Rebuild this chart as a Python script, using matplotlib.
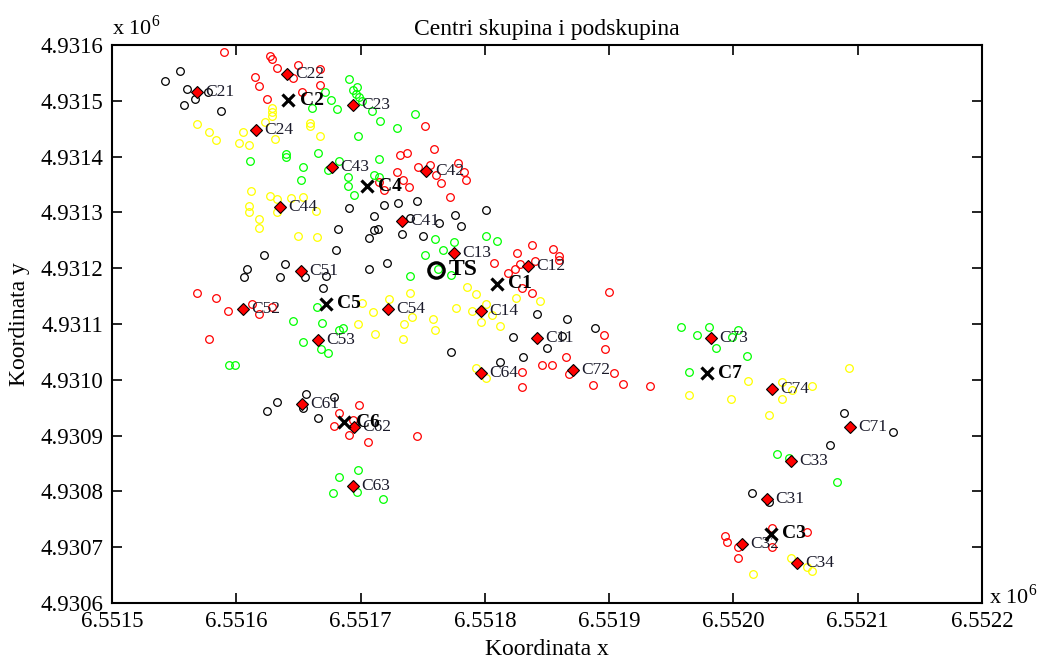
import numpy as np
import matplotlib
matplotlib.use('Agg')
import matplotlib.pyplot as plt

plt.rcParams['font.family'] = ['Liberation Serif', 'DejaVu Serif']
plt.rcParams['mathtext.fontset'] = 'stix'

# tocke po bojama (koordinate u metrima)
black_x = [6551543, 6551555, 6551560, 6551567, 6551558, 6551588, 6551577, 6551622, 6551609,
           6551606, 6551639, 6551635, 6551655, 6551670, 6551672, 6551680, 6551682, 6551691,
           6551707, 6551711, 6551711, 6551714, 6551719, 6551730, 6551745, 6551733, 6551750,
           6551740, 6551763, 6551707, 6551721, 6551776, 6551781, 6551801, 6551842, 6551866,
           6551889, 6551823, 6551850, 6551862, 6551831, 6551812, 6551773, 6552089, 6552078,
           6552128, 6552015, 6552029, 6551656, 6551633, 6551625, 6551654, 6551666, 6551679]
black_y = [4931536, 4931553, 4931521, 4931503, 4931492, 4931482, 4931516, 4931224, 4931199,
           4931184, 4931208, 4931184, 4931184, 4931165, 4931186, 4931233, 4931270, 4931308,
           4931254, 4931294, 4931268, 4931270, 4931313, 4931317, 4931320, 4931261, 4931258,
           4931290, 4931281, 4931199, 4931209, 4931295, 4931276, 4931304, 4931118, 4931109,
           4931093, 4931077, 4931057, 4931078, 4931041, 4931032, 4931050, 4930940, 4930883,
           4930906, 4930797, 4930781, 4930975, 4930960, 4930944, 4930950, 4930932, 4930969]

green_x = [6551691, 6551697, 6551694, 6551696, 6551699, 6551701, 6551709, 6551716, 6551729,
           6551744, 6551698, 6551666, 6551715, 6551683, 6551671, 6551676, 6551681, 6551661,
           6551640, 6551640, 6551611, 6551654, 6551652, 6551674, 6551690, 6551690, 6551695,
           6551711, 6551715, 6551760, 6551775, 6551766, 6551752, 6551801, 6551810, 6551740,
           6551762, 6551773, 6551665, 6551669, 6551646, 6551683, 6551686, 6551654, 6551668,
           6551674, 6551594, 6551599, 6551683, 6551698, 6551678, 6551697, 6551718, 6551958,
           6551980, 6551971, 6552004, 6551999, 6551986, 6552011, 6551964, 6552035, 6552045,
           6552083]
green_y = [4931539, 4931525, 4931519, 4931512, 4931507, 4931500, 4931482, 4931464, 4931451,
           4931476, 4931437, 4931406, 4931396, 4931392, 4931516, 4931501, 4931485, 4931487,
           4931405, 4931399, 4931392, 4931381, 4931358, 4931376, 4931363, 4931347, 4931331,
           4931367, 4931363, 4931252, 4931247, 4931233, 4931224, 4931258, 4931249, 4931186,
           4931199, 4931188, 4931130, 4931102, 4931105, 4931089, 4931093, 4931068, 4931055,
           4931048, 4931027, 4931027, 4930826, 4930838, 4930797, 4930799, 4930786, 4931095,
           4931095, 4931080, 4931089, 4931077, 4931057, 4931043, 4931014, 4930867, 4930860,
           4930817]

yellow_x = [6551568, 6551578, 6551584, 6551605, 6551602, 6551610, 6551629, 6551629, 6551629,
            6551623, 6551631, 6551659, 6551659, 6551667, 6551612, 6551627, 6551610, 6551610,
            6551618, 6551618, 6551633, 6551633, 6551644, 6551654, 6551664, 6551650, 6551665,
            6551723, 6551740, 6551701, 6551710, 6551698, 6551712, 6551734, 6551735, 6551741,
            6551758, 6551760, 6551786, 6551793, 6551777, 6551790, 6551801, 6551797, 6551812,
            6551806, 6551825, 6551844, 6551793, 6551801, 6552093, 6552012, 6551964, 6551998,
            6552039, 6552039, 6552063, 6552047, 6552029, 6552046, 6552059, 6552063, 6552016]
yellow_y = [4931458, 4931444, 4931430, 4931444, 4931424, 4931421, 4931487, 4931480, 4931473,
            4931462, 4931432, 4931460, 4931455, 4931437, 4931338, 4931329, 4931312, 4931301,
            4931288, 4931272, 4931324, 4931301, 4931326, 4931328, 4931302, 4931258, 4931256,
            4931145, 4931156, 4931138, 4931121, 4931100, 4931082, 4931073, 4931100, 4931113,
            4931109, 4931089, 4931166, 4931154, 4931129, 4931123, 4931136, 4931104, 4931096,
            4931116, 4931147, 4931141, 4931021, 4931003, 4931021, 4930998, 4930973, 4930966,
            4930996, 4930966, 4930989, 4930982, 4930937, 4930681, 4930665, 4930657, 4930652]

red_x = [6551590, 6551627, 6551629, 6551633, 6551650, 6551646, 6551615, 6551618, 6551667,
         6551667, 6551653, 6551625, 6551752, 6551759, 6551732, 6551737, 6551746, 6551756,
         6551778, 6551783, 6551785, 6551765, 6551761, 6551772, 6551739, 6551734, 6551729,
         6551715, 6551719, 6551568, 6551584, 6551593, 6551613, 6551618, 6551629, 6551578,
         6551838, 6551855, 6551860, 6551860, 6551826, 6551807, 6551840, 6551819, 6551824,
         6551828, 6551830, 6551838, 6551900, 6551896, 6551897, 6551865, 6551846, 6551854,
         6551830, 6551830, 6551868, 6551887, 6551904, 6551911, 6551933, 6551699, 6551683,
         6551679, 6551691, 6551706, 6551745, 6551694, 6551993, 6551995, 6552004, 6552004,
         6552031, 6552059, 6552031]
red_y = [4931587, 4931580, 4931575, 4931559, 4931564, 4931541, 4931543, 4931527, 4931557,
         4931528, 4931516, 4931503, 4931455, 4931414, 4931403, 4931406, 4931381, 4931385,
         4931388, 4931372, 4931358, 4931353, 4931367, 4931328, 4931345, 4931358, 4931372,
         4931354, 4931340, 4931156, 4931147, 4931123, 4931136, 4931118, 4931130, 4931073,
         4931242, 4931234, 4931222, 4931215, 4931227, 4931209, 4931213, 4931191, 4931199,
         4931208, 4931165, 4931156, 4931157, 4931080, 4931055, 4931041, 4931027, 4931027,
         4931014, 4930987, 4931010, 4930991, 4931012, 4930992, 4930989, 4930955, 4930940,
         4930917, 4930901, 4930889, 4930899, 4930928, 4930720, 4930709, 4930700, 4930681,
         4930734, 4930727, 4930700]

# centri podskupina
sub_names = ['C21', 'C22', 'C23', 'C24', 'C43', 'C42', 'C44', 'C41', 'C51', 'C52', 'C53',
             'C54', 'C13', 'C12', 'C14', 'C11', 'C64', 'C72', 'C61', 'C62', 'C63', 'C73',
             'C74', 'C71', 'C33', 'C31', 'C32', 'C34']
sub_x = [6551568, 6551641, 6551694, 6551616, 6551677, 6551753, 6551635, 6551733, 6551652,
         6551605, 6551666, 6551722, 6551775, 6551835, 6551797, 6551842, 6551797, 6551871,
         6551653, 6551695, 6551694, 6551982, 6552031, 6552094, 6552046, 6552027, 6552007,
         6552051]
sub_y = [4931516, 4931548, 4931492, 4931448, 4931381, 4931374, 4931310, 4931285, 4931195,
         4931127, 4931071, 4931127, 4931227, 4931204, 4931123, 4931075, 4931012, 4931018,
         4930957, 4930915, 4930810, 4931075, 4930984, 4930915, 4930854, 4930786, 4930706,
         4930672]

# centri skupina
main_names = ['C1', 'C2', 'C3', 'C4', 'C5', 'C6', 'C7']
main_x = [6551810, 6551642, 6552030, 6551705, 6551672, 6551687, 6551979]
main_y = [4931172, 4931501, 4930724, 4931347, 4931136, 4930924, 4931012]

ts_x = 6551761
ts_y = 4931197

fig = plt.figure(figsize=(10.43, 6.64), dpi=100)
ax = fig.add_axes([0.1074, 0.0919, 0.8341, 0.8404])

for xs, ys, c in [(black_x, black_y, 'black'), (red_x, red_y, '#ff0000'),
                  (green_x, green_y, '#00ff00'), (yellow_x, yellow_y, '#ffff00')]:
    ax.plot(np.array(xs) / 1e6, np.array(ys) / 1e6, 'o', mfc='none', mec=c,
            ms=5.5, mew=0.9, ls='none')

# podskupine
ax.plot(np.array(sub_x) / 1e6, np.array(sub_y) / 1e6, 'D', mfc='#ff0000', mec='black',
        ms=6, mew=0.8, ls='none', zorder=4)
for n, x, y in zip(sub_names, sub_x, sub_y):
    ax.annotate(n, (x / 1e6, y / 1e6), xytext=(6, 0), textcoords='offset points',
                va='center', ha='left', fontsize=12.5, color='#1a1a2a', zorder=5)

# skupine
ax.plot(np.array(main_x) / 1e6, np.array(main_y) / 1e6, 'x', color='black',
        ms=9, mew=2.3, ls='none', zorder=6)
for n, x, y in zip(main_names, main_x, main_y):
    ax.annotate(n, (x / 1e6, y / 1e6), xytext=(8, 0), textcoords='offset points',
                va='center', ha='left', fontsize=14, fontweight='bold', color='black', zorder=7)

ax.plot(ts_x / 1e6, ts_y / 1e6, 'o', mfc='none', mec='black', ms=11, mew=2.4, zorder=6)
ax.annotate('TS', (ts_x / 1e6, ts_y / 1e6), xytext=(9, 0), textcoords='offset points',
            va='center', ha='left', fontsize=17, fontweight='bold', zorder=7)

ax.set_xlim(6.5515, 6.5522)
ax.set_ylim(4.9306, 4.9316)
xt = np.arange(7 + 1) * 0.0001 + 6.5515
yt = np.arange(10 + 1) * 0.0001 + 4.9306
ax.set_xticks(xt)
ax.set_xticklabels(['%.4f' % v for v in xt])
ax.set_yticks(yt)
ax.set_yticklabels(['%.4f' % v for v in yt])
ax.tick_params(direction='in', top=True, right=True, length=7, width=1.2,
               labelsize=16.5, pad=6)
for s in ax.spines.values():
    s.set_linewidth(1.5)

ax.set_title('Centri skupina i podskupina', fontsize=17, pad=7)
ax.set_xlabel('Koordinata x', fontsize=17, labelpad=5)
ax.set_ylabel('Koordinata y', fontsize=17, labelpad=8)

ax.text(0.0, 1.01, r'x 10$^{\mathregular{6}}$', transform=ax.transAxes,
        ha='left', va='bottom', fontsize=16)
ax.text(1.008, -0.01, r'x 10$^{\mathregular{6}}$', transform=ax.transAxes,
        ha='left', va='bottom', fontsize=16, clip_on=False)

fig.savefig('out.png', dpi=100)
